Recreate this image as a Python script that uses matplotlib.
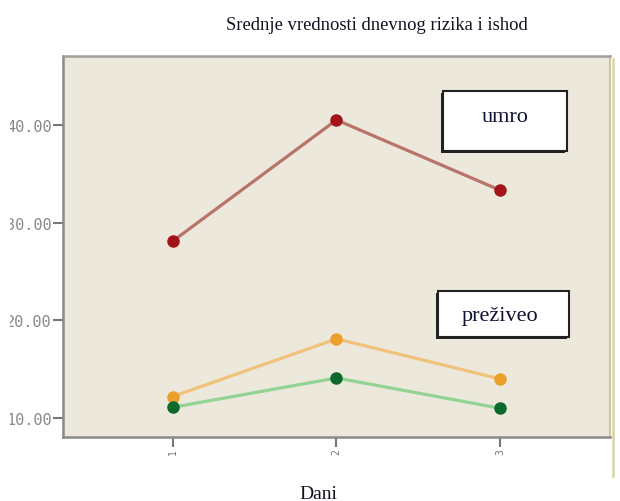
import matplotlib
matplotlib.use("Agg")
import matplotlib.pyplot as plt

days = [1, 2, 3]
day_labels = ["1", "2", "3"]
umro = [28.1, 40.5, 33.3]
prezi_orange = [12.2, 18.1, 14.0]
prezi_green = [11.1, 14.1, 11.0]
yticks = [10, 20, 30, 40]
ytick_labels = ["10.00", "20.00", "30.00", "40.00"]

W, H = 620, 502
fig = plt.figure(figsize=(W / 100, H / 100), dpi=100)
fig.patch.set_facecolor("white")

ax = fig.add_axes([63 / W, (H - 438) / H, 547 / W, 381 / H])
ax.set_facecolor("#ece9dc")
ax.set_xlim(0.33, 3.67)
ax.set_ylim(8.06, 47.04)

ax.plot(days, umro, color="#b8736a", lw=2.3, zorder=3)
ax.plot(days, umro, "o", color="#a3141a", ms=8, zorder=4)
ax.plot(days, prezi_orange, color="#f1c27a", lw=2.3, zorder=3)
ax.plot(days, prezi_orange, "o", color="#eaa02a", ms=8, zorder=4)
ax.plot(days, prezi_green, color="#93d394", lw=2.3, zorder=3)
ax.plot(days, prezi_green, "o", color="#0b6a2c", ms=8, zorder=4)

ax.set_xticks(days)
ax.set_xticklabels(day_labels, rotation=90, fontsize=7, color="#777777",
                   family="DejaVu Sans Mono")
ax.set_yticks(yticks)
ax.set_yticklabels(ytick_labels, fontsize=11, color="#888888",
                   family="DejaVu Sans Mono")
ax.tick_params(axis="both", length=7, width=1.5, color="#777777", pad=1)

for s in ["left", "bottom"]:
    ax.spines[s].set_color("#8a8a8a")
    ax.spines[s].set_linewidth(1.8)
ax.spines["top"].set_color("#a0a09a")
ax.spines["top"].set_linewidth(1.8)
ax.spines["right"].set_color("#c9c6a0")
ax.spines["right"].set_linewidth(1.5)

# right vertical line extending below plot
fig.add_artist(plt.Line2D([613 / W, 613 / W], [(H - 477) / H, (H - 60) / H],
                          color="#d8d4a8", lw=1.8))

# white strip cropping the left edge of the tick labels
fig.add_artist(plt.Rectangle((0, 0), 10 / W, 1, facecolor="white",
                             edgecolor="none", zorder=10))

def box(x0, y0, x1, y1, txt, tx, ty):
    fig.add_artist(plt.Rectangle((x0 / W - 2 / W, (H - y1 - 2) / H),
                                 (x1 - x0) / W, (y1 - y0) / H,
                                 facecolor="#222222", edgecolor="none", zorder=5))
    fig.add_artist(plt.Rectangle((x0 / W, (H - y1) / H), (x1 - x0) / W, (y1 - y0) / H,
                                 facecolor="white", edgecolor="#222222", lw=1.5, zorder=6))
    fig.text(tx / W, (H - ty) / H, txt,
             ha="center", va="center", fontsize=16, family="Liberation Serif",
             color="#111133", zorder=7)

box(443, 92, 567, 152, "umro", 505, 117)
box(438, 292, 569, 338, "preživeo", 500, 316)

fig.text(377 / W, (H - 25) / H, "Srednje vrednosti dnevnog rizika i ishod",
         ha="center", va="center", fontsize=13.4, family="Liberation Serif",
         color="#111122")
fig.text(318 / W, (H - 495) / H, "Dani", ha="center", va="center", fontsize=14,
         family="Liberation Serif", color="#111122")

fig.savefig("out.png", dpi=100)
